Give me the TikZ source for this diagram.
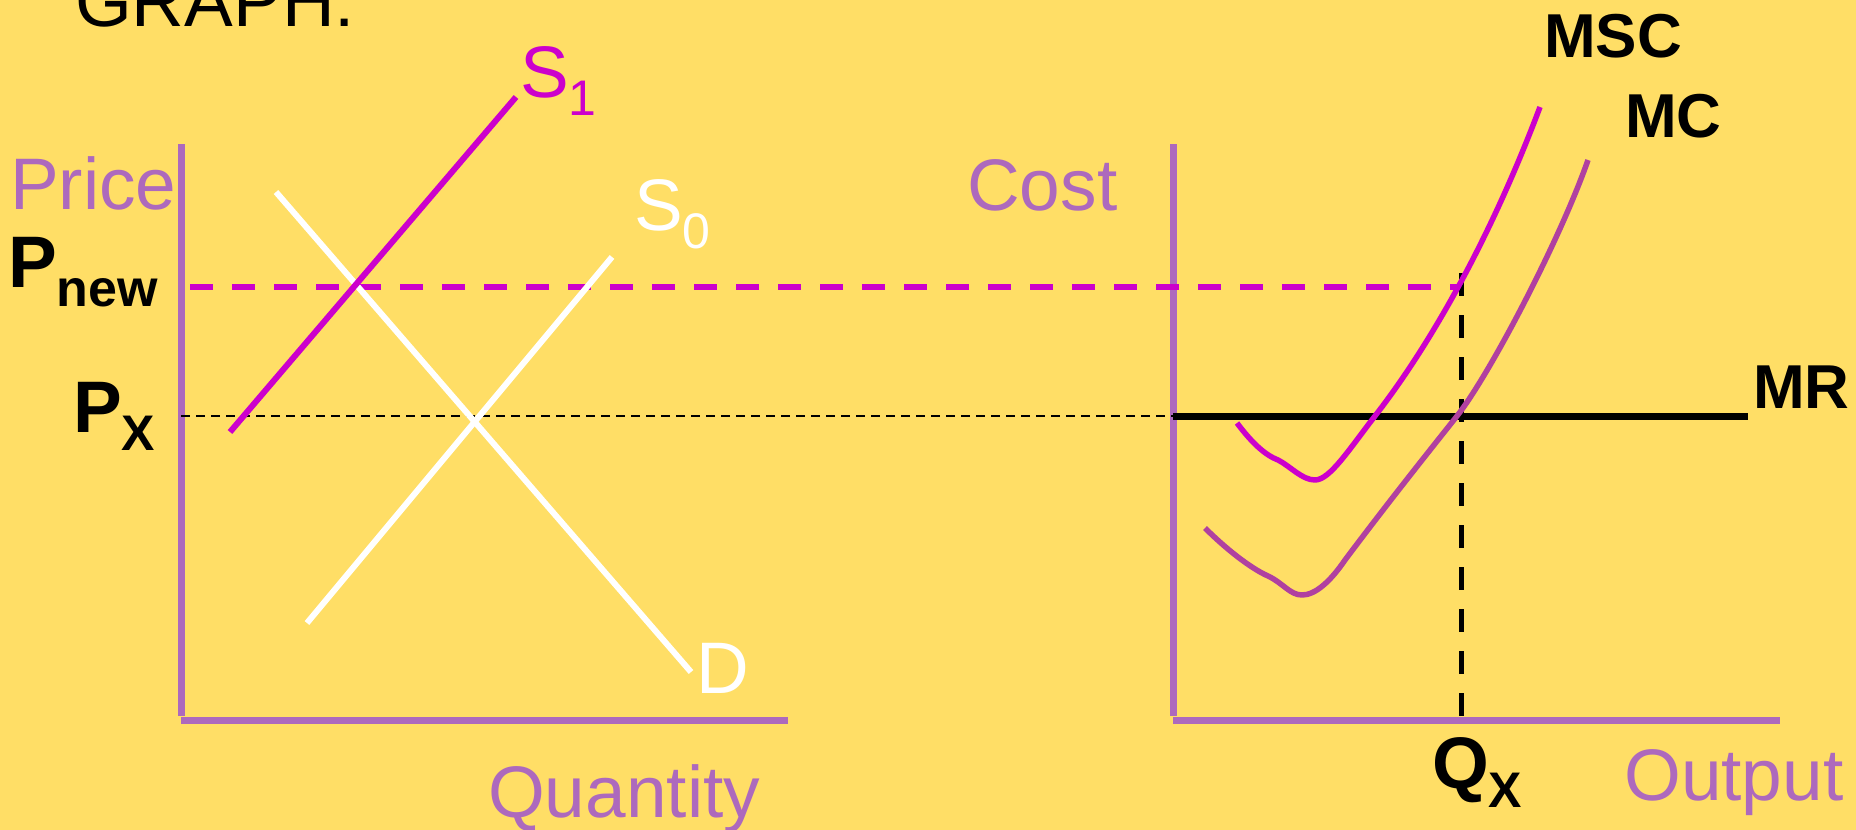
\documentclass[tikz,border=0pt]{standalone}
\usepackage{fontspec}
\setmainfont{Liberation Sans}
\definecolor{bg}{RGB}{255,222,102}
\definecolor{axis}{RGB}{173,105,189}
\definecolor{mag}{RGB}{204,0,204}
\definecolor{mcc}{RGB}{176,64,160}
\begin{document}
\begin{tikzpicture}[x=1pt,y=-1pt,
  reg/.style={font=\fontsize{73}{80}\selectfont, inner sep=0pt, anchor=base west},
  boldlbl/.style={font=\fontsize{73}{80}\selectfont\bfseries, inner sep=0pt, anchor=base west},
  curvelbl/.style={font=\fontsize{62}{66}\selectfont\bfseries, inner sep=0pt, anchor=base west},
  axisline/.style={draw=axis, line width=7pt},
  whiteline/.style={draw=white, line width=6pt},
  pnewdash/.style={draw=mag, line width=6pt, dash pattern=on 23pt off 19pt},
  qdash/.style={draw=black, line width=5pt, dash pattern=on 23pt off 19pt},
  pxdot/.style={draw=black, line width=2pt, dash pattern=on 9pt off 6pt},
  costcurve/.style={line width=5.5pt, line join=round}]
\fill[bg] (0,0) rectangle (1856,830);
\useasboundingbox (0,0) rectangle (1856,830);

% left axes
\coordinate (lTop) at (181,144);
\coordinate (lOrig) at (181,720);
\coordinate (lRight) at (788,720);
\draw[axisline] (lTop) -- (181,716);
\draw[axisline] (lOrig) -- (lRight);

% right axes
\coordinate (rTop) at (1173,144);
\coordinate (rOrig) at (1173,720);
\coordinate (rRight) at (1780,720);
\draw[axisline] (rTop) -- (1173,716);
\draw[axisline] (rOrig) -- (rRight);

% guide lines
\coordinate (pxA) at (181,416);
\coordinate (pxB) at (1173,416);
\draw[pxdot] (pxA) -- (pxB);
\coordinate (pnA) at (190,287);
\coordinate (pnB) at (1461,287);
\draw[pnewdash] (pnA) -- (pnB);
\coordinate (qTop) at (1461,273);
\coordinate (qBot) at (1461,734);
\draw[qdash] (qTop) -- (qBot);

% MR
\coordinate (mrA) at (1173,416);
\coordinate (mrB) at (1748,416);
\draw[black, line width=7pt] (mrA) -- (mrB);

% demand / supply
\coordinate (dTop) at (276,192);
\coordinate (dBot) at (691,672);
\draw[whiteline] (dTop) -- (dBot);
\coordinate (s0Bot) at (307,623);
\coordinate (s0Top) at (612,257);
\draw[whiteline] (s0Bot) -- (s0Top);
\coordinate (s1Bot) at (230,432);
\coordinate (s1Top) at (516,97);
\draw[draw=mag, line width=6pt] (s1Bot) -- (s1Top);

% MC curve
\draw[mcc, costcurve] (1205,528)
  .. controls (1225,548) and (1250,568) .. (1268,576)
  .. controls (1283,583) and (1290,595) .. (1302,595)
  .. controls (1315,595) and (1330,582) .. (1345,560)
  .. controls (1390,500) and (1430,450) .. (1457,416)
  .. controls (1490,374) and (1560,240) .. (1588,160);
% MSC curve
\draw[mag, costcurve] (1237,423)
  .. controls (1252,443) and (1265,455) .. (1278,460)
  .. controls (1290,466) and (1302,480) .. (1315,480)
  .. controls (1330,480) and (1350,448) .. (1375,416)
  .. controls (1430,345) and (1490,240) .. (1540,107);

% labels
\node[reg] (graph) at (75,26) {GRAPH:};
\node[reg, text=axis] (price) at (10,209) {Price};
\node[reg, text=axis] (cost) at (967,210) {Cost};
\node[reg, text=axis] (qty) at (488,817) {Quantity};
\node[reg, text=axis] (out) at (1624,800) {Output};
\node[reg, text=white] (dl) at (696,693) {D};
\node[reg, text=white] (s0) at (634,230) {S\raisebox{-18pt}{\fontsize{50}{52}\selectfont 0}};
\node[reg, text=mag] (s1) at (520,97) {S\raisebox{-18pt}{\fontsize{50}{52}\selectfont 1}};
\node[boldlbl] (pnew) at (8,287) {P\raisebox{-19pt}{\fontsize{52}{54}\selectfont new}};
\node[boldlbl] (px) at (73,432) {P\raisebox{-18pt}{\fontsize{50}{52}\selectfont X}};
\node[boldlbl] (qx) at (1432,788) {Q\raisebox{-19pt}{\fontsize{50}{52}\selectfont X}};
\node[curvelbl] (msc) at (1544,57) {MSC};
\node[curvelbl] (mc) at (1625,137) {MC};
\node[curvelbl] (mr) at (1753,408) {MR};
\end{tikzpicture}
\end{document}
